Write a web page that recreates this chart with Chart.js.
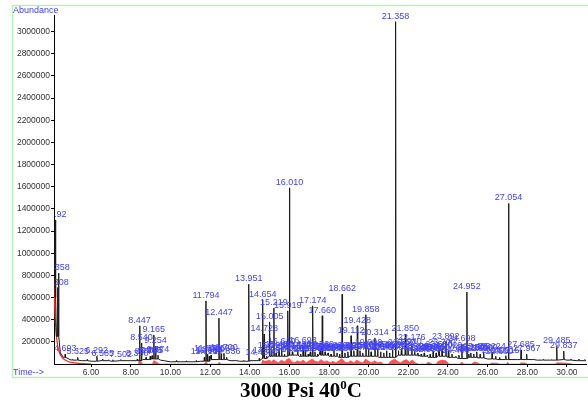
<!DOCTYPE html>
<html>
<head>
<meta charset="utf-8">
<script src="https://cdn.jsdelivr.net/npm/chart.js@4/dist/chart.umd.min.js"></script>
<style>
  body { margin: 0; background: #fff; }
  #wrap { position: relative; width: 588px; height: 402px; }
  #caption {
    position: absolute; left: 0; top: 380px; width: 602px; text-align: center;
    font-family: "Liberation Serif", "Times New Roman", serif; font-weight: bold;
    font-size: 21px; line-height: 21px; color: #000;
  }
  #caption sup { font-size: 13px; vertical-align: 8px; line-height: 0; }
</style>
</head>
<body>
<div id="wrap">
  <canvas id="tic" width="588" height="402"></canvas>
  <div id="caption">3000 Psi 40<sup>0</sup>C</div>
</div>
<script>
// labelled peaks (retention time, abundance)
const peakTimes = [4.192, 4.308, 4.358, 4.693, 5.325, 6.292, 6.585, 7.502, 8.330, 8.447, 8.540, 8.770, 8.980, 9.075, 9.165, 9.254, 9.374,
  11.710, 11.794, 11.870, 11.960, 12.050, 12.447, 12.560, 12.700, 12.836, 13.951,
  14.480, 14.654, 14.728, 14.850, 15.005, 15.105, 15.219, 15.330, 15.480, 15.610, 15.750, 15.919, 16.010, 16.150, 16.280, 16.420, 16.560, 16.693, 16.800, 16.950,
  17.060, 17.174, 17.290, 17.420, 17.560, 17.660, 17.800, 17.950, 18.100, 18.250, 18.400, 18.530, 18.662, 18.800, 18.950,
  19.112, 19.250, 19.428, 19.560, 19.700, 19.858, 19.990, 20.120, 20.314, 20.450, 20.600, 20.760, 20.900, 21.050, 21.200, 21.358, 21.500, 21.650, 21.850, 21.980,
  22.176, 22.320, 22.480, 22.650, 22.800, 22.950, 23.100, 23.250, 23.400, 23.550, 23.700, 23.892, 24.020, 24.200, 24.400, 24.698, 24.952,
  25.150, 25.300, 25.450, 25.620, 25.800, 26.224, 26.400, 26.600, 26.915, 27.054, 27.685, 27.967, 29.485, 29.837];
const peakHeights = [1300000, 690000, 820000, 90000, 60000, 70000, 45000, 40000, 45000, 345000, 190000, 60000, 70000, 75000, 262000, 160000, 80000,
  60000, 570000, 90000, 70000, 80000, 415000, 90000, 95000, 60000, 720000,
  50000, 580000, 270000, 70000, 380000, 120000, 505000, 100000, 130000, 150000, 90000, 480000, 1590000, 110000, 80000, 130000, 90000, 160000, 120000, 90000,
  110000, 525000, 110000, 90000, 130000, 435000, 110000, 100000, 90000, 120000, 100000, 90000, 630000, 100000, 110000,
  255000, 120000, 345000, 120000, 100000, 445000, 140000, 110000, 235000, 130000, 110000, 100000, 120000, 100000, 130000, 3090000, 120000, 140000, 270000, 150000,
  185000, 110000, 100000, 90000, 100000, 80000, 90000, 110000, 100000, 130000, 140000, 200000, 120000, 90000, 70000, 180000, 650000,
  100000, 90000, 110000, 90000, 100000, 105000, 70000, 60000, 75000, 1450000, 127000, 90000, 160000, 117000];

// unlabelled small peaks
const smallPeakTimes = [5.05, 5.8, 6.9, 7.1, 7.8, 10.3, 10.8, 11.3, 13.3, 13.7, 24.55, 25.05, 28.3, 28.8, 29.2, 30.2, 30.6, 30.9];
const smallPeakHeights = [40000, 40000, 38000, 38000, 35000, 30000, 28000, 30000, 35000, 32000, 80000, 90000, 45000, 40000, 38000, 45000, 45000, 40000];

// baseline of the trace
const baseTimes = [4.13, 4.25, 4.45, 4.6, 5.0, 5.5, 6.0, 6.5, 7.0, 7.5, 8.0, 8.6, 9.0, 9.5, 10.0, 10.5, 11.0, 11.5, 12.0, 12.5, 13.0, 13.5, 14.0, 14.5,
  15.0, 15.5, 16.0, 16.5, 17.0, 17.5, 18.0, 18.5, 19.0, 19.5, 20.0, 20.5, 21.0, 21.5, 22.0, 22.5, 23.0, 23.5, 24.0, 24.5, 25.0, 25.5, 26.0, 26.5,
  27.0, 27.5, 28.0, 28.5, 29.0, 29.5, 30.0, 30.5, 31.0];
const baseValues = [600000, 250000, 100000, 60000, 35000, 30000, 25000, 30000, 25000, 30000, 30000, 40000, 45000, 35000, 20000, 20000, 20000, 25000, 40000, 40000, 30000, 25000, 30000, 50000,
  70000, 70000, 80000, 70000, 70000, 80000, 70000, 60000, 70000, 70000, 70000, 60000, 60000, 80000, 80000, 70000, 60000, 70000, 60000, 50000, 60000, 55000, 45000, 40000,
  40000, 40000, 40000, 35000, 35000, 40000, 35000, 30000, 30000];

// solvent tail of the integration line (red, no fill)
const tailTimes = [4.13, 4.16, 4.2, 4.26, 4.33, 4.42, 4.55, 4.75, 5.0, 5.4, 6.0];
const tailValues = [780000, 560000, 380000, 240000, 150000, 95000, 55000, 30000, 15000, 6000, 0];

// integrated (red) areas
const redTimes = [8.38, 8.42, 8.47, 8.52, 8.6, 9.1, 9.16, 9.25, 9.35, 9.45, 11.7, 11.8, 11.9, 12.4, 12.45, 12.55,
  14.6, 14.65, 14.75, 14.9, 15.0, 15.1, 15.2, 15.3, 15.45, 15.6, 15.75, 15.9, 16.0, 16.1, 16.25, 16.4, 16.55, 16.7, 16.85, 17.0, 17.15, 17.3, 17.45, 17.6, 17.75, 17.9,
  18.05, 18.2, 18.35, 18.5, 18.65, 18.8, 18.95, 19.1, 19.25, 19.4, 19.55, 19.7, 19.85, 20.0, 20.15, 20.3, 20.45, 20.6, 20.75,
  21.0, 21.1, 21.3, 21.45, 21.6, 21.75, 21.9, 22.05, 22.2, 22.35, 22.5, 22.9, 23.0, 23.2, 23.4, 23.5, 23.7, 23.9, 24.05,
  24.6, 24.7, 24.8, 25.2, 25.3, 25.5, 25.6, 26.1, 26.2, 26.5, 26.6, 26.95, 27.0, 27.1, 27.6, 27.7, 27.9, 28.0, 29.4, 29.5, 29.9, 30.3];
const redValues = [0, 25000, 35000, 20000, 0, 0, 30000, 25000, 12000, 0, 0, 18000, 0, 0, 18000, 0,
  0, 35000, 25000, 30000, 35000, 18000, 40000, 25000, 12000, 35000, 18000, 45000, 50000, 25000, 12000, 30000, 18000, 35000, 12000, 30000, 45000, 25000, 18000, 40000, 18000, 30000,
  12000, 25000, 12000, 30000, 50000, 18000, 12000, 30000, 12000, 35000, 18000, 12000, 45000, 25000, 12000, 30000, 12000, 18000, 0,
  0, 25000, 45000, 25000, 12000, 30000, 40000, 18000, 35000, 12000, 0, 0, 18000, 0, 0, 25000, 35000, 30000, 0,
  0, 18000, 0, 0, 18000, 12000, 0, 0, 10000, 7000, 0, 0, 15000, 0, 0, 12000, 10000, 0, 0, 12000, 10000, 0];

const xTickValues = [6, 8, 10, 12, 14, 16, 18, 20, 22, 24, 26, 28, 30];
const yTickValues = [200000, 400000, 600000, 800000, 1000000, 1200000, 1400000, 1600000, 1800000, 2000000, 2200000, 2400000, 2600000, 2800000, 3000000];

const BLUE = '#4141f5';

function baseAt(t) {
    let v = baseValues[0];
    for (let i = 0; i < baseTimes.length; i++) {
        if (baseTimes[i] <= t) v = baseValues[i];
    }
    return v;
}

function buildTrace() {
    const pts = baseTimes.map((t, i) => ({ x: t, y: baseValues[i] }));
    const addPeak = (t, h) => {
        const b = baseAt(t);
        pts.push({ x: t - 0.02, y: b }, { x: t, y: h }, { x: t + 0.02, y: b });
    };
    peakTimes.forEach((t, i) => addPeak(t, peakHeights[i]));
    smallPeakTimes.forEach((t, i) => addPeak(t, smallPeakHeights[i]));
    pts.sort((a, b) => a.x - b.x);
    return pts;
}

const decorPlugin = {
    id: 'decor',
    beforeDraw(chart) {
        const ctx = chart.ctx;
        ctx.save();
        ctx.strokeStyle = '#b6f2b6';
        ctx.lineWidth = 1.5;
        ctx.strokeRect(12.5, 5.5, 620, 372);
        ctx.restore();
    },
    afterDatasetsDraw(chart) {
        const { ctx, chartArea, scales } = chart;
        ctx.save();
        ctx.beginPath();
        ctx.rect(chartArea.left + 1, 0, chartArea.right - chartArea.left, chartArea.bottom);
        ctx.clip();
        ctx.font = '9px "Liberation Sans", Arial, sans-serif';
        ctx.fillStyle = BLUE;
        ctx.textAlign = 'center';
        ctx.textBaseline = 'bottom';
        peakTimes.forEach((t, i) => {
            ctx.fillText(t.toFixed(3), scales.x.getPixelForValue(t), scales.y.getPixelForValue(peakHeights[i]) - 1);
        });
        ctx.restore();

        ctx.save();
        ctx.font = '9px "Liberation Sans", Arial, sans-serif';
        ctx.fillStyle = BLUE;
        ctx.textAlign = 'left';
        ctx.textBaseline = 'middle';
        ctx.fillText('Abundance', 13, 11);
        ctx.fillText('Time-->', 13, 373);
        ctx.restore();
    }
};

new Chart(document.getElementById('tic'), {
    type: 'line',
    data: {
        datasets: [{
            data: buildTrace(),
            borderColor: '#1a1a1a',
            borderWidth: 1,
            pointRadius: 0,
            tension: 0,
            fill: false,
            order: 0
        }, {
            data: tailTimes.map((t, i) => ({ x: t, y: tailValues[i] })),
            borderColor: '#ff2020',
            borderWidth: 1.2,
            pointRadius: 0,
            tension: 0.3,
            fill: false,
            order: 1
        }, {
            data: redTimes.map((t, i) => ({ x: t, y: redValues[i] })),
            borderColor: '#ff3030',
            borderWidth: 0.5,
            backgroundColor: 'rgba(255, 40, 40, 0.8)',
            pointRadius: 0,
            tension: 0,
            fill: 'origin',
            order: 2
        }]
    },
    plugins: [decorPlugin],
    options: {
        responsive: false,
        animation: false,
        layout: { padding: { left: 12, top: 15, right: 2, bottom: 24 } },
        plugins: { legend: { display: false }, tooltip: { enabled: false } },
        scales: {
            x: {
                type: 'linear',
                min: 4.13,
                max: 30.96,
                afterBuildTicks: (scale) => { scale.ticks = xTickValues.map(v => ({ value: v })); },
                afterFit: (scale) => { scale.height = 14; },
                ticks: {
                    callback: (v) => Number(v).toFixed(2),
                    color: '#333',
                    font: { family: '"Liberation Sans", Arial, sans-serif', size: 8.5 },
                    maxRotation: 0,
                    padding: 1
                },
                grid: { drawOnChartArea: false, tickLength: 3, color: '#000' },
                border: { color: '#000', width: 1 }
            },
            y: {
                min: 0,
                max: 3150000,
                afterBuildTicks: (scale) => { scale.ticks = yTickValues.map(v => ({ value: v })); },
                afterFit: (scale) => { scale.width = 42; },
                ticks: {
                    callback: (v) => String(v),
                    color: '#333',
                    font: { family: '"Liberation Sans", Arial, sans-serif', size: 8.5 },
                    padding: 1
                },
                grid: { drawOnChartArea: false, tickLength: 3, color: '#000' },
                border: { color: '#000', width: 1 }
            }
        }
    }
});
</script>
</body>
</html>
